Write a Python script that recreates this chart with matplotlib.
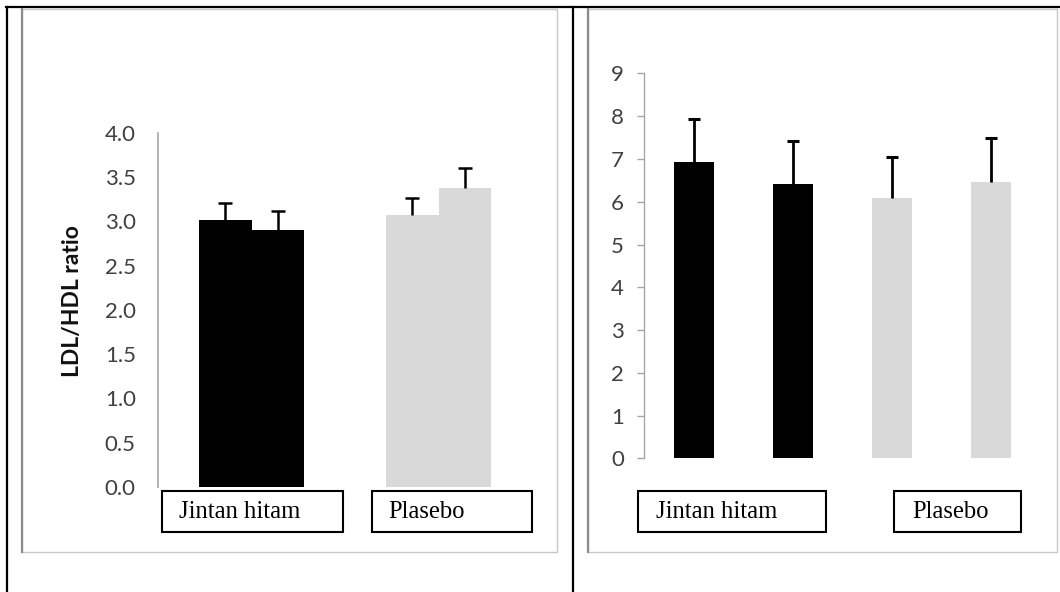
import matplotlib
matplotlib.use("Agg")
import matplotlib.pyplot as plt
from matplotlib.patches import Rectangle
from matplotlib.lines import Line2D
import numpy as np

# ---------------- data ----------------
left_groups = ["Jintan hitam", "Plasebo"]
left_before = [3.02, 3.07]
left_after = [2.90, 3.38]
left_err_before = [0.19, 0.20]
left_err_after = [0.22, 0.22]
left_yticks = [0.0, 0.5, 1.0, 1.5, 2.0, 2.5, 3.0, 3.5, 4.0]
left_ylabel = "LDL/HDL ratio"

right_values = [6.94, 6.41, 6.08, 6.47]
right_err = [1.00, 1.00, 0.97, 1.02]
right_yticks = [0, 1, 2, 3, 4, 5, 6, 7, 8, 9]
right_groups = ["Jintan hitam", "Plasebo"]

BLACK = "#000000"
GREY = "#d9d9d9"
TICKC = "#404040"
AXC = "#a6a6a6"

W, H = 1060, 592
fig = plt.figure(figsize=(W / 100, H / 100), dpi=100)
fig.patch.set_facecolor("white")


def fx(px):
    return px / W


def fy(py):
    return (H - py) / H


def upper_errorbar(ax, xs, ys, errs, **kw):
    """Excel-style error bar: only the positive side, with a cap at the top only."""
    cont = ax.errorbar(xs, ys, yerr=[[0] * len(xs), errs], fmt="none", **kw)
    tops = np.asarray(ys)
    for cl in cont[1]:
        yd = np.asarray(cl.get_ydata(), dtype=float)
        if len(yd) == len(tops) and np.allclose(yd, tops):
            cl.set_visible(False)
    return cont


# ---------------- frame (table lines) ----------------
fig.add_artist(Line2D([fx(6), fx(1060)], [fy(7), fy(7)], color="black", lw=1.6))
fig.add_artist(Line2D([fx(6.5), fx(6.5)], [fy(7), fy(592)], color="black", lw=1.6))
fig.add_artist(Line2D([fx(572.5), fx(572.5)], [fy(7), fy(592)], color="black", lw=1.6))

# inner chart borders
for (x0, x1) in [(22, 557), (588, 1057)]:
    fig.add_artist(Rectangle((fx(x0), fy(552)), fx(x1) - fx(x0), fy(9) - fy(552),
                             fill=False, edgecolor="#c8c8c8", lw=1.0))
    fig.add_artist(Line2D([fx(x0), fx(x0)], [fy(9), fy(552)], color="#8c8c8c", lw=1.6))

# ---------------- left chart ----------------
axL = fig.add_axes([fx(158), fy(487), (532 - 158) / W, (487 - 133) / H])
x = np.arange(len(left_groups))
bw = 0.283
colors_l = [BLACK, GREY]
axL.bar(x - bw / 2, left_before, width=bw, color=colors_l, align="center", zorder=2)
axL.bar(x + bw / 2, left_after, width=bw, color=colors_l, align="center", zorder=2)
upper_errorbar(axL, x - bw / 2, left_before, left_err_before,
               ecolor="black", elinewidth=1.8, capsize=5, capthick=1.8, zorder=3)
upper_errorbar(axL, x + bw / 2, left_after, left_err_after,
               ecolor="black", elinewidth=1.8, capsize=5, capthick=1.8, zorder=3)
axL.set_xlim(-0.5, 1.5)
axL.set_ylim(0, 4.0)
axL.set_yticks(left_yticks)
axL.set_yticklabels([f"{v:.1f}" for v in left_yticks], family="Lato", fontsize=16, color=TICKC)
axL.tick_params(axis="y", length=0, pad=16)
axL.set_xticks([])
for s in ["top", "right", "bottom"]:
    axL.spines[s].set_visible(False)
axL.spines["left"].set_color(AXC)
axL.spines["left"].set_linewidth(1.2)
axL.patch.set_alpha(0)
fig.text(fx(72), fy(301), left_ylabel, rotation=90, ha="center", va="center",
         family="Lato", fontweight="bold", fontsize=16.5, color="#111111")

# ---------------- right chart ----------------
axR = fig.add_axes([fx(643.5), fy(458.4), (1040.5 - 643.5) / W, 385 / H])
xr = np.arange(len(right_values))
colors_r = [BLACK, BLACK, GREY, GREY]
axR.bar(xr, right_values, width=0.404, color=colors_r, zorder=2)
upper_errorbar(axR, xr, right_values, right_err,
               ecolor="black", elinewidth=2.0, capsize=4, capthick=2.2, zorder=3)
axR.set_xlim(-0.51, 3.5)
axR.set_ylim(0, 9)
axR.set_yticks(right_yticks)
axR.set_yticklabels([str(v) for v in right_yticks], family="Lato", fontsize=16, color=TICKC)
axR.tick_params(axis="y", length=5, width=1, color=AXC, pad=9)
axR.set_xticks([])
for s in ["top", "right", "bottom"]:
    axR.spines[s].set_visible(False)
axR.spines["left"].set_color(AXC)
axR.spines["left"].set_linewidth(1.0)
axR.patch.set_alpha(0)

# ---------------- group label boxes ----------------
boxes = [
    (left_groups[0], 162, 343, 179),
    (left_groups[1], 372, 532, 388),
    (right_groups[0], 638, 826, 656),
    (right_groups[1], 894, 1021, 912),
]
for label, x0, x1, tx in boxes:
    fig.add_artist(Rectangle((fx(x0), fy(532)), fx(x1) - fx(x0), fy(491) - fy(532),
                             fill=True, facecolor="white", edgecolor="black", lw=1.5, zorder=5))
    fig.text(fx(tx), fy(518), label, ha="left", va="baseline",
             family="Liberation Serif", fontsize=17.7, color="black", zorder=6)

fig.savefig("out.png", dpi=100, facecolor="white")
